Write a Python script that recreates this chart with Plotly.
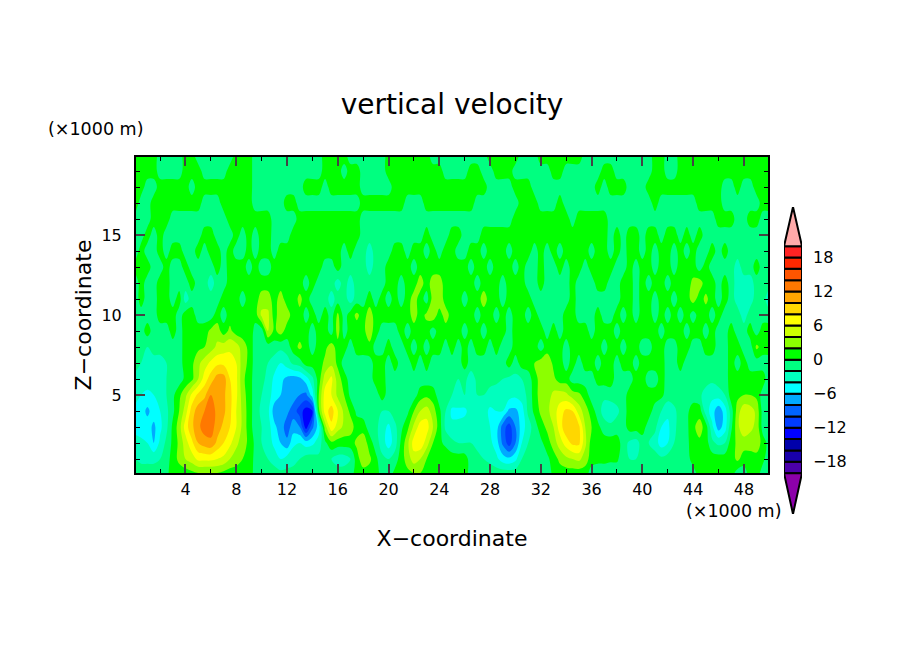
import plotly.graph_objects as go
from plotly.subplots import make_subplots

# grid columns and rows (x1000 m)
x_km = [0.1] + [0.5 * k for k in range(1, 100)] + [49.9]
z_km = [0.125] + list(range(1, 20)) + [19.875]

# w per height level, left to right, one line per 10 km of x
w_z00 = [-1, -1, -1, -1, -1, -0.5, 1, 1, 1, 1.5, 2, 2, 2, 2, 1.5, 1, 1, 1, 0.8, -0.5, -1,
         -1, -1, -1.5, -1.5, -1.5, -1, -1, -1, -1, -1, -1, -1, -1, -1, 1, 1, 1, 1, -1, -1,
         0.5, 1, 1.5, 2, 2, 1.5, 1, 1, 1, 1, 1, 1, -1, -1, -1, -1, -1, -1, -1, -1,
         -1, -1, -1, -1, -1, 0.5, 1, 1, 1, 1, 1, -1, -1, -1, -1, -1, -1, -1, -1, -1,
         -1, -1, -1, -1, -1, -1, -1, -1, 1, 1, 1, 1, 1, 1, -1, -1, 1, 1, -1, -1]
w_z01 = [-2, -2.5, -2.5, -2.5, -2, -1, 1, 2.5, 4, 5, 6.5, 6.5, 6.5, 6, 5.5, 4, 3, 2, 1, -0.5, -1.5,
         -2, -3, -4, -3, -2.5, -2, -1, -1, -1.5, -1, -2, -3, -3, -2, 1, 3.5, 2.5, 0.5, -1.5, -2,
         -1, 1, 3, 5, 4, 2, 1, 1, 1.5, 1, 1, 1, -1, -1.5, -2, -2.5, -3.5, -5, -5.5, -4.5,
         -2, -1.5, -1, -1, -0.5, 1, 2.5, 3.5, 4, 4.5, 3, 1, 0.5, 0.5, 0.3, 0.3, -1, -2, -2, -1,
         -1, -1, -1.5, -1, -1, -1.5, -1, 1, 1, 1, 1, 1, 1, 1, 2.5, 1, 1, 1, 0.5, -1]
w_z02 = [-3, -3.5, -4, -6, -3.5, -1.5, 0.5, 2.5, 5, 7.5, 10, 11, 11.5, 9.5, 8, 6.5, 4.5, 3, 1.5, -0.5, -2,
         -3, -4.5, -6, -7.5, -4.5, -4, -5, -4.5, -3, -0.5, 1.5, 1, 1, 1, 2.5, 3.5, 1, -1, -3, -5,
         -3, 0.5, 3.5, 7, 7.5, 5, 2, 0.5, -0.5, -1.5, -2, -2, -2, -2.5, -3, -3.5, -5, -8.5, -11, -8,
         -4, -2, -1, -0.5, 1, 3, 5, 7, 8.5, 8.5, 4.5, 1, 1, 1, 1, 1, -1, -2.5, -3, -1,
         -2, -3, -5, -4, -2, -1, -0.5, 1, 1.5, 1, -1.5, -2.5, -2, 1, 2.5, 3, 3, 3.5, 1, -0.5]
w_z03 = [-5, -5, -5, -6.5, -4.5, -2.5, 0.5, 3, 7, 9.5, 11.5, 13, 13, 11, 9.5, 8, 6, 3.5, 1, -1, -2,
         -3, -5.5, -7, -9, -7, -8, -13, -8.5, -5, 3, 7.5, 5, 3.5, 3, 1, 1, -1, -1.5, -3, -4.5,
         -2.5, -0.5, 1.5, 4.5, 7, 7, 4, 1, -2.5, -3.5, -3.5, -3, -3, -3, -3.5, -4, -5, -9, -11, -8,
         -5, -3, -1, 1, 2.5, 4, 7, 9.5, 9.5, 8.5, 4, 2, 0.5, -1, -1.5, -1, -1, 1, 1, 1,
         -1, -1.5, -4, -4.5, -2.5, -1, -0.5, 1.5, 3, 1, -3.5, -7, -5, -0.5, 3.5, 5.5, 4.5, 3.5, -1, -1]
w_z04 = [-4.5, -5, -6.5, -5, -4, -2.5, -0.5, 2, 5, 9, 11, 12, 13, 11.5, 10.5, 8.5, 6, 3.5, 1, -1, -2.5,
         -3.5, -7, -7, -7.5, -9, -11, -13, -12, 1.5, 7, 9, 6, 3.5, 1.5, -0.5, -1, -1, -1, -2, -2,
         -1, -1, -0.5, 2, 4, 5, 3, 0.5, -2, -4.5, -4.5, -4.5, -3, -3, -3, -4.5, -4, -4, -6.5, -6.5,
         -5, -1.5, 0.5, 2.5, 3.5, 5, 7, 8.5, 8, 5, 3, 1, -1, -3, -3.5, -2.5, -1, 1, 1, 1,
         1, -1, -2, -3.5, -2.5, -1, -0.5, 1, 1, -3, -5, -7.5, -5, -1, 3, 5.5, 5, 3.5, -1, -1]
w_z05 = [-3.5, -4, -4.5, -4, -3, -2, -0.5, 1.5, 3.5, 6.5, 8.5, 9.5, 12, 12, 10.5, 8.5, 6.5, 3, 1, -1, -2,
         -3, -5, -6, -7, -7, -8, -8.5, -5, 2, 7, 6, 3.5, 2, -0.5, -1, -1, -1, -1, 1, -1,
         -1, -1, -1, -1, 1, 1.5, 1, -1, -1, -2, -2, -2, -2.5, -2, -2, -2.5, -3, -3, -3, -3.5,
         -3, -1.5, 1, 3, 3, 4.5, 5, 4.5, 3, 2.5, 1, -1, -1.5, -1.5, -1, -1, -1, 1, 1, 1,
         1, 1, 0.5, -1, -1, -1, -1, -1, -1.5, -3, -3.5, -3, -2, 1, 1.5, 2, 2, 1.5, -1, -1]
w_z06 = [-2.5, -3, -3, -3, -3, -2, -1, -1, 0.5, 1.5, 4, 7, 9, 11, 11, 8, 6.5, 2.5, 1, -1, -1.5,
         -2.5, -4.5, -5.5, -6.5, -7, -6.5, -5, -2.5, 1, 5, 6.5, 3, 1, -1, -1, -1, -1, 1, 1, -1,
         -1, -1, -1, -1, -1, -1, -1, -1, -1, -1, -2, -1.5, -3, -1.5, -1.5, -1.5, -1.5, -2, -2.5, -2.5,
         -2, -1, 1, 3, 3.5, 2.5, 1, 1, -1, -1, -1, -1, 1, 1, 1, -1, -1, -1, 1, 1,
         -1, -1, 1, -1, -1, -1, -1, -1, -1, -1, -1.5, -1, -1, 1, 1, 1, 1, 1, 1, -1]
w_z07 = [-1.5, -2, -2, -3, -3, -2, -1, -1, 1, 1.5, 3.5, 5, 6.5, 7.5, 7.5, 7, 6, 3, 1.5, -1, -1.5,
         -2, -3, -4, -3, -1.5, -1, 1, 1, 1, 2.5, 3.5, 1.5, -1, -1, -1, -1, -1, 1, 1, -1,
         1, -1, -1, 1, -1, 1, -1, -1, -1, -1, -1, 1, -1, -1, -1, -1, -1, -1, 1, -1,
         1, 1, 2, 3, 3.5, 1.5, 1, -1, 1, -1, 1, 1, -1, 1, 1, -1, 1, 1, -1, 1,
         1, 1, 1, -1, -1, 1, -1, -1, -1, -1, -1, -1, -1, 1, -1, 1, -1, -1, -1, -1]
w_z08 = [-1, -1, -2, -1, -1, -1, -1, -1, 1, 1, 1.5, 2, 3, 4.5, 5, 5.5, 5, 3, 1.5, -1, -1,
         -1, -1, -1.5, -1, 1, 2.5, 1, -1, 1, 1.5, 3, 1, 1, -1, 1, 1, 1.5, -1, -1, 1,
         -1, -1, 1, -1, 1, -1, 1, 1, -1, 1, -1, 1, -1, 1, 1, -1, 1, -1, -1, 1,
         1, 1, 1, -1, 1, 1, 1, -1, 1, 1, 1, 1, 1, -1, 1, 1, -1, 1, 1, -1,
         -1, 1, 1, -1, -1, 1, 1, -1, -1, 1, 1, -1, -1, 1, 1, -1, -1, 2.5, 1, 1]
w_z09 = [-1, -1, 1, -1, -1, -1, 1, -1, 1, 1, 1, 1, 2.5, 3, 1, 2.5, 1, 1, 2, -1, -1,
         4, 1.5, 3, 1, 1, 1, 1, -1, 1, 1, -1, 3, -1, 1, 1, 1.5, 3, 1, -1, -1,
         -1, 1, -1, 1, 1, 1, -1, 1, 1, 1, 1, -1, 1, 1, -1, 1, 1, 1, -1, 1,
         1, 1, 1, 1, -1, 1, -1, 1, 1, 1, 1, -1, 1, 1, 1, -1, 1, 1, 1, 1,
         1, 1, -1, 1, 1, 1, -1, 1, 1, -1, 1, -1, -1, 1, -1, -1, 1, -1, 1, 1]
w_z10 = [-1, -1, -1, -1, 1, 1, 1, -1, 1, 1, -1, -1, -1, 1, -1, 1, 1, 1, 1, 1, 4.5,
         4.5, 1, 3.5, 3, 1, 1.5, -1, 1, -1, 1, -1, 2.5, -1, 1, 2.5, 1, 3, 1, 1, 1,
         1, 1, 1, 3, 1, 2.5, 3.5, 1, 3, 1, 1, 1, 1, -1, 1, 1, -1, 1, -1, 1,
         1, -1, 1, -1, -1, -1, -1, 1, 1, -1, -1, -1, 1, -1, -1, 1, -1, 1, -1, 1,
         1, -1, 1, -1, 1, -1, 1, -1, 1, 1, -1, 1, -1, -1, -1, -3, -1, -1, -1, -1]
w_z11 = [-1, 1, -1, -1, 1, 1, -1, 1, -3, -1, -1, -1, -1, -1, 1, 1, 1, -1, 1, 1, 3,
         3, 1, 3, 1, 1, 2.5, 1, -1, -1, -1, -3, -1, -1, -3, -1, -1, 1, -1, 1, -1,
         1, -1, 1, 3, 1, -1, 3, 3.5, 1, 1, 1, -1, 1, 1, 3, 1, 1, -1, 1, 1,
         1, 1, -1, -1, -1, -1, -1, -1, 1, -1, -1, -1, -1, -1, -1, -1, 1, 1, -1, 1,
         1, -1, 1, 1, -1, 1, 1, 3, 1, 2.5, 1, -1, 1, -1, -3, -3, -3, -1, -1, -3]
w_z12 = [-1, 1, -1, -1, 1, 1, -1, -1, -1, 1, -1, -1, -3, -1, -1, 1, 1, 1, 1, 1, 1,
         1, 1, 1, 1, 1, 1, -1, 1, -1, -1, -1, -3, -1, -3, -1, -1, -1, -1, -1, 1,
         1, -1, 1, 1, 3, 1, 3, 3, 1, 1, 1, 1, 1, -1, 1, 1, 1, -1, 1, 1,
         1, -1, -1, 1, -1, -1, -1, -1, 1, -1, -1, -1, 1, 1, -1, -1, 1, 1, -1, 1,
         -1, 1, 1, -1, 1, 1, 1, 2.5, 3, 1, 1, -1, 1, -1, -3, -3, -3, -1, -1, -1]
w_z13 = [1, 1, 1, -1, -1, 1, -1, -1, 1, -1, -1, -1, -1, 1, -1, 1, 1, 1, -1, 1, -1,
         -1, 1, 1, 1, 1, 1, 1, 1, 1, -1, -1, 1, -1, -1, -1, -1, -3, -1, -1, 1,
         1, 1, 1, -1, 1, 1, 1, 1, 1, 1, 1, 1, -1, 1, 1, -1, 1, 1, 1, -1,
         1, -1, -1, 1, -1, -1, 1, -1, 1, 1, -1, 1, 1, 1, 1, -1, -1, 1, -1, 1,
         1, -1, 1, 1, -1, 1, 1, 1, -1, 1, -1, -1, -1, -1, -3, -1, -1, 1, -1, -1]
w_z14 = [-1, 1, -1, -1, 1, -1, 1, 1, -1, -1, 1, -1, 1, 1, -1, 1, -1, -1, 1, -1, 1,
         1, -1, 1, 1, 1, 1, 1, 1, 1, 1, 1, 1, -1, 1, -1, -1, -3, -1, -1, -1,
         1, 1, -1, 1, 1, -1, 1, -1, 1, 1, -1, -1, 1, 1, -1, 1, 1, 1, -1, 1,
         1, 1, -1, 1, -1, 1, -1, 1, 1, 1, 1, -1, 1, 1, -1, 1, -1, 1, 1, -1,
         1, -1, 1, 1, -1, 1, -1, 1, -1, -1, 1, -1, 1, -1, -1, -1, -1, -1, -1, -1]
w_z15 = [-1, -1, 1, -1, 1, -1, -1, -1, -1, -1, -1, 1, 1, -1, -1, -1, 1, -1, 1, -1, 1,
         1, -1, -1, -1, 1, 1, 1, 1, 1, 1, 1, 1, 1, 1, 1, -1, -1, -1, -1, -1,
         -1, -1, -1, -1, -1, 1, -1, -1, -1, 1, 1, -1, -1, -1, 1, 1, 1, 1, 1, 1,
         1, 1, 1, 1, 1, 1, 1, 1, 1, 1, 1, 1, 1, 1, -1, 1, -1, 1, 1, -1,
         1, 1, -1, 1, 1, -1, 1, -1, 1, -1, -1, -1, -1, -1, -1, -1, -1, -1, -1, -1]
w_z16 = [-1, -1, -1, 1, 1, 1, -1, -1, -1, -1, -1, -1, -1, -1, -1, 1, 1, 1, 1, 1, 1,
         1, -1, -1, -1, -1, 1, 1, 1, 1, 1, 1, 1, 1, 1, 1, -1, -1, -1, -1, -1,
         -1, -1, -1, -1, -1, -1, -1, -1, -1, -1, -1, -1, -1, -1, -1, -1, -1, -1, -1, 1,
         1, 1, 1, 1, 1, 1, 1, 1, -1, 1, 1, 1, 1, 1, -1, -1, -1, -1, -1, -1,
         -1, -1, -1, -1, -1, -1, -1, -1, -1, -1, -1, 1, 1, 1, -1, -1, 1, 1, -1, -1]
w_z17 = [1, -1, -1, 1, 1, 1, 1, 1, 1, 1, 1, -1, -1, -1, 1, 1, 1, 1, 1, -1, -1,
         -1, -1, -1, 1, 1, -1, -1, -1, -1, -1, -1, -1, -1, -1, -1, 1, 1, 1, 1, 1,
         1, 1, -1, -1, -1, 1, 1, 1, 1, 1, 1, 1, 1, -1, -1, -1, -1, -1, -1, -1,
         1, 1, 1, -1, -1, -1, 1, -1, -1, -1, -1, -1, -1, -1, -1, -1, -1, -1, -1, -1,
         -1, 1, -1, -1, -1, -1, -1, -1, 1, 1, 1, 1, -1, -1, -1, -1, -1, -1, 1, 1]
w_z18 = [1, 1, -1, -1, 1, 1, 1, 1, 1, -1, 1, 1, 1, 1, 1, 1, 1, 1, 1, -1, -1,
         -1, -1, -1, -1, -1, -1, 1, 1, 1, -1, 1, 1, 1, 1, 1, -1, -1, -1, -1, -1,
         1, 1, 1, 1, 1, 1, 1, 1, 1, 1, 1, 1, 1, 1, 1, -1, -1, -1, -1, 1,
         1, 1, -1, -1, -1, -1, -1, -1, -1, -1, -1, -1, 1, -1, 1, 1, 1, -1, -1, -1,
         1, 1, 1, 1, 1, 1, 1, 1, 1, 1, 1, 1, -1, -1, 1, -1, -1, 1, 1, 1]
w_z19 = [1, 1, 1, 1, -1, -1, -1, -1, 1, 1, 1, -1, -1, -1, -1, 1, 1, 1, 1, -1, -1,
         -1, -1, -1, -1, -1, -1, -1, -1, -1, 1, 1, 1, -1, 1, 1, -1, -1, -1, -1, 1,
         1, 1, 1, 1, 1, 1, 1, 1, -1, -1, -1, -1, 1, 1, -1, -1, 1, 1, 1, -1,
         -1, -1, -1, -1, -1, 1, 1, -1, -1, -1, -1, -1, -1, 1, 1, -1, -1, -1, -1, -1,
         -1, 1, 1, -1, -1, 1, 1, 1, 1, 1, 1, 1, 1, 1, 1, 1, 1, 1, 1, 1]
w_z20 = [1, 1, 1, 1, -1, -1, -1, -1, 1, 1, -1, -1, -1, -1, -1, -1, 1, 1, 1, -1, -1,
         -1, -1, -1, -1, -1, -1, -1, -1, -1, 1, 1, 1, 1, -1, -1, -1, -1, -1, -1, 1,
         1, 1, 1, 1, 1, 1, -1, -1, -1, -1, -1, -1, -1, -1, -1, 1, 1, 1, 1, 1,
         -1, -1, -1, 1, 1, 1, 1, 1, 1, 1, -1, -1, -1, -1, -1, -1, -1, -1, -1, -1,
         -1, 1, 1, -1, -1, 1, 1, 1, 1, 1, 1, 1, 1, 1, 1, 1, 1, 1, 1, 1]

w_grid = [w_z00, w_z01, w_z02, w_z03, w_z04, w_z05, w_z06, w_z07, w_z08, w_z09, w_z10,
          w_z11, w_z12, w_z13, w_z14, w_z15, w_z16, w_z17, w_z18, w_z19, w_z20]

# shading levels, -20 to 20 step 2, low to high
levels = list(range(-20, 20, 2))
level_colors = [
    "#4b00aa", "#1900aa", "#0000aa", "#0000ff", "#003cff", "#0064ff", "#00aaff", "#00ffff",
    "#00ffbe", "#00ff80", "#00ff00", "#8cff00", "#ccff00", "#ffff00", "#ffd700", "#ffa500",
    "#ff7800", "#ff5500", "#ff2800", "#ff2323",
]
low_color = "#8c00aa"
high_color = "#ffaaaa"
bar_ticks = [18, 12, 6, 0, -6, -12, -18]
bar_labels = ["18", "12", "6", "0", "−6", "−12", "−18"]

FONT = "DejaVu Sans"

scale = []
for i, c in enumerate(level_colors):
    scale.append([i / 20, c])
    scale.append([(i + 1) / 20, c])

fig = make_subplots(rows=1, cols=2)

fig.add_trace(
    go.Contour(
        x=x_km,
        y=z_km,
        z=w_grid,
        colorscale=scale,
        zmin=-20,
        zmax=20,
        autocontour=False,
        contours=dict(start=-20, end=20, size=2, coloring="fill", showlines=False),
        line_width=0,
        showscale=False,
    ),
    row=1,
    col=1,
)

# colour bar, one box per level plus the two end triangles
fig.add_trace(
    go.Bar(
        x=[0] * len(levels),
        y=[2] * len(levels),
        base=levels,
        width=1,
        marker=dict(color=level_colors, line=dict(color="black", width=2)),
        showlegend=False,
    ),
    row=1,
    col=2,
)
fig.add_trace(
    go.Scatter(
        x=[-0.5, 0.5, 0, -0.5],
        y=[20, 20, 26.9, 20],
        mode="lines",
        fill="toself",
        fillcolor=high_color,
        line=dict(color="black", width=2),
        showlegend=False,
    ),
    row=1,
    col=2,
)
fig.add_trace(
    go.Scatter(
        x=[-0.5, 0.5, 0, -0.5],
        y=[-20, -20, -27.2, -20],
        mode="lines",
        fill="toself",
        fillcolor=low_color,
        line=dict(color="black", width=2),
        showlegend=False,
    ),
    row=1,
    col=2,
)

fig.update_layout(
    width=904,
    height=654,
    margin=dict(l=0, r=0, t=0, b=0),
    paper_bgcolor="white",
    plot_bgcolor="white",
    barmode="overlay",
    font=dict(family=FONT, color="black", size=16),
    title=dict(
        text="vertical velocity",
        x=452 / 904,
        xanchor="center",
        y=1 - 104 / 654,
        yanchor="middle",
        font=dict(family=FONT, size=28, color="black"),
    ),
    annotations=[
        dict(text="(×1000 m)", x=95 / 904, y=1 - 129 / 654, xref="paper", yref="paper",
             xanchor="center", yanchor="middle", showarrow=False, font=dict(size=17.5)),
        dict(text="(×1000 m)", x=733 / 904, y=1 - 511 / 654, xref="paper", yref="paper",
             xanchor="center", yanchor="middle", showarrow=False, font=dict(size=17.5)),
    ],
)

fig.update_xaxes(
    domain=[136 / 904, 768 / 904],
    range=[0.1, 49.9],
    tick0=0,
    dtick=4,
    ticks="inside",
    ticklen=9,
    tickwidth=2,
    minor=dict(tick0=0, dtick=2, ticks="inside", ticklen=4, tickwidth=1, tickcolor="black"),
    showline=True,
    linecolor="black",
    linewidth=2,
    mirror="ticks",
    showgrid=False,
    zeroline=False,
    ticklabelstandoff=1,
    title=dict(text="X−coordinate", font=dict(size=22), standoff=32),
    row=1,
    col=1,
)
fig.update_yaxes(
    domain=[1 - 473 / 654, 1 - 157 / 654],
    range=[0.125, 19.875],
    tick0=0,
    dtick=5,
    ticks="inside",
    ticklen=9,
    tickwidth=2,
    minor=dict(tick0=0, dtick=1, ticks="inside", ticklen=4, tickwidth=1, tickcolor="black"),
    showline=True,
    linecolor="black",
    linewidth=2,
    mirror="ticks",
    showgrid=False,
    zeroline=False,
    ticklabelstandoff=9,
    title=dict(text="Z−coordinate", font=dict(size=22), standoff=4),
    row=1,
    col=1,
)
fig.update_xaxes(
    domain=[784 / 904, 802 / 904],
    range=[-0.5, 0.5],
    visible=False,
    row=1,
    col=2,
)
fig.update_yaxes(
    domain=[1 - 514 / 654, 1 - 207 / 654],
    range=[-27.2, 26.9],
    side="right",
    tickvals=bar_ticks,
    ticktext=bar_labels,
    ticks="",
    ticklabelstandoff=10,
    showline=False,
    showgrid=False,
    zeroline=False,
    row=1,
    col=2,
)

fig.write_html(
    "out.html",
    config={"displayModeBar": False},
    post_script="document.body.style.margin='0';",
)
